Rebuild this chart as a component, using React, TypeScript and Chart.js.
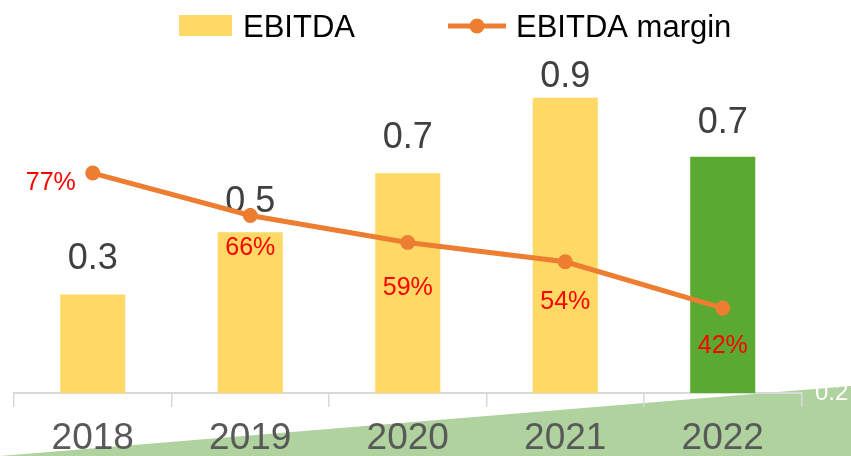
import React, { useEffect, useRef } from "react";
import { Chart, registerables } from "chart.js";

Chart.register(...registerables);

const categories = ["2018", "2019", "2020", "2021", "2022"];
const ebitda = [0.3, 0.49, 0.67, 0.9, 0.72];
const ebitdaMargin = [0.77, 0.66, 0.59, 0.54, 0.42];
const secondaryAxisLabel = "0.2";

// label placement tweaks (style, not data)
const barLabelGap = [26, 20, 25, 11, 24];
const pctLabelOffset: [number, number][] = [
  [-42, 17],
  [0, 40],
  [0, 52],
  [0, 47],
  [0, 45],
];

const FONT = "'Liberation Sans', Arial, sans-serif";
const YELLOW = "#FFD966";
const GREEN = "#5AAA32";
const ORANGE = "#ED7D31";

const decor = {
  id: "decor",
  beforeDraw(chart: any) {
    const ctx = chart.ctx;
    const w = chart.width;
    const h = chart.height;
    ctx.save();
    ctx.fillStyle = "#AFD29F";
    ctx.beginPath();
    ctx.moveTo(0, h);
    ctx.lineTo(w, 386);
    ctx.lineTo(w, h);
    ctx.closePath();
    ctx.fill();
    ctx.restore();
  },
  afterDatasetDraw(chart: any, args: any) {
    if (args.index !== 0) return;
    const ctx = chart.ctx;
    const meta = chart.getDatasetMeta(0);
    ctx.save();
    ctx.font = `36px ${FONT}`;
    ctx.fillStyle = "#404040";
    ctx.textAlign = "center";
    ctx.textBaseline = "alphabetic";
    meta.data.forEach((bar: any, i: number) => {
      ctx.fillText(ebitda[i].toFixed(1), bar.x, bar.y - barLabelGap[i]);
    });
    ctx.restore();
  },
  afterDatasetsDraw(chart: any) {
    const ctx = chart.ctx;
    const meta = chart.getDatasetMeta(1);
    ctx.save();
    ctx.font = `25px ${FONT}`;
    ctx.fillStyle = "#FF0000";
    ctx.textAlign = "center";
    ctx.textBaseline = "alphabetic";
    meta.data.forEach((pt: any, i: number) => {
      const [dx, dy] = pctLabelOffset[i];
      ctx.fillText(Math.round(ebitdaMargin[i] * 100) + "%", pt.x + dx, pt.y + dy);
    });

    // secondary axis bottom label
    const y2 = chart.scales.y2;
    ctx.font = `24px ${FONT}`;
    ctx.fillStyle = "#FFFFFF";
    ctx.textAlign = "left";
    ctx.textBaseline = "middle";
    ctx.fillText(secondaryAxisLabel, 815, y2.getPixelForValue(0.2));

    // legend
    ctx.fillStyle = YELLOW;
    ctx.fillRect(179, 15, 53, 21);
    ctx.font = `31px ${FONT}`;
    ctx.fillStyle = "#000000";
    ctx.textAlign = "left";
    ctx.textBaseline = "alphabetic";
    ctx.fillText(chart.data.datasets[0].label, 243, 37);
    ctx.strokeStyle = ORANGE;
    ctx.lineWidth = 5;
    ctx.beginPath();
    ctx.moveTo(448, 26);
    ctx.lineTo(506, 26);
    ctx.stroke();
    ctx.fillStyle = ORANGE;
    ctx.beginPath();
    ctx.arc(477, 26, 7.5, 0, Math.PI * 2);
    ctx.fill();
    ctx.fillStyle = "#000000";
    ctx.fillText(chart.data.datasets[1].label, 516, 37);
    ctx.restore();
  },
};

export default function App() {
  const ref = useRef<HTMLCanvasElement | null>(null);

  useEffect(() => {
    if (!ref.current) return;
    const chart = new Chart(ref.current, {
      type: "bar",
      data: {
        labels: categories,
        datasets: [
          {
            type: "bar",
            label: "EBITDA",
            data: ebitda,
            backgroundColor: categories.map((_, i) => (i === categories.length - 1 ? GREEN : YELLOW)),
            borderWidth: 0,
            categoryPercentage: 1,
            barPercentage: 0.413,
            yAxisID: "y",
            order: 2,
          },
          {
            type: "line",
            label: "EBITDA margin",
            data: ebitdaMargin,
            borderColor: ORANGE,
            backgroundColor: ORANGE,
            borderWidth: 5,
            pointRadius: 7.5,
            pointBackgroundColor: ORANGE,
            pointBorderWidth: 0,
            tension: 0,
            yAxisID: "y2",
            order: 1,
          },
        ] as any,
      },
      options: {
        animation: false,
        responsive: false,
        layout: { padding: { left: 14, right: 49.5, top: 65, bottom: 0 } },
        plugins: {
          legend: { display: false },
          tooltip: { enabled: false },
        },
        scales: {
          x: {
            grid: {
              display: true,
              drawOnChartArea: false,
              drawTicks: true,
              tickLength: 14,
              color: "#D9D9D9",
              lineWidth: 1.5,
              offset: true,
            },
            border: { display: true, color: "#D9D9D9", width: 2 },
            ticks: {
              color: "#595959",
              font: { family: FONT, size: 37 },
              padding: 10,
              maxRotation: 0,
            },
            afterFit(scale: any) {
              scale.height = 63;
            },
          },
          y: { display: false, min: 0, max: 1.0 },
          y2: { display: false, min: 0.2, max: 1.05, position: "right" },
        },
      } as any,
      plugins: [decor],
    });
    return () => chart.destroy();
  }, []);

  return (
    <div style={{ position: "absolute", left: 0, top: 0, width: 851, height: 456, background: "#fff" }}>
      <canvas ref={ref} width={851} height={456} style={{ display: "block" }} />
    </div>
  );
}
